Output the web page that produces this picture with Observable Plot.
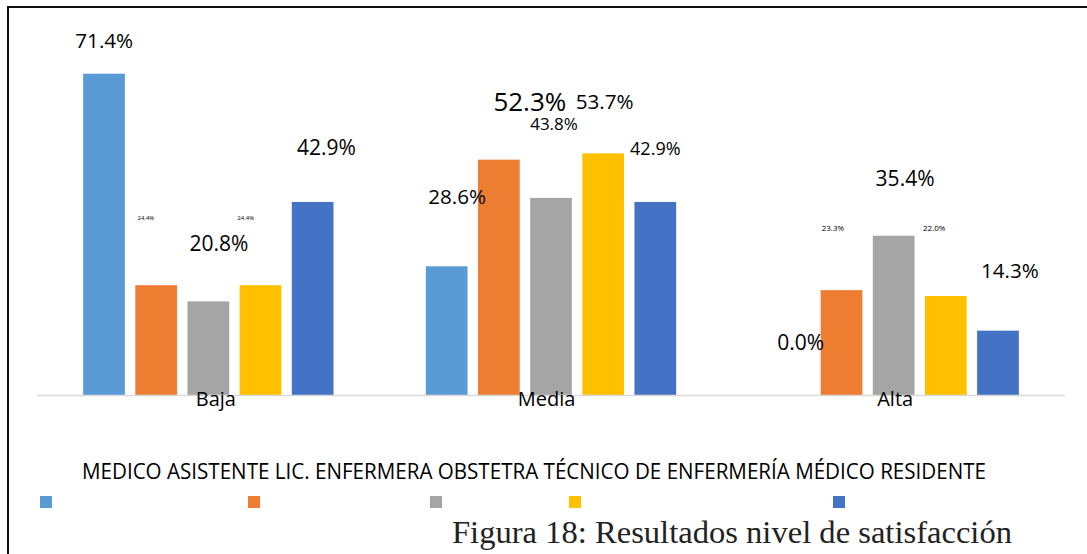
<!DOCTYPE html>
<html>
<head>
<meta charset="utf-8">
<script src="https://cdn.jsdelivr.net/npm/d3@7"></script>
<script src="https://cdn.jsdelivr.net/npm/@observablehq/plot@0.6"></script>
<style>
  html, body { margin: 0; padding: 0; background: #fff; overflow: hidden; }
  #wrap { position: relative; width: 1087px; height: 554px; }
  #frame { position: absolute; left: 7px; top: 6px; width: 1200px; height: 700px;
           border-top: 2.5px solid #111; border-left: 2.5px solid #111; pointer-events: none; }
  svg { display: block; }
</style>
</head>
<body>
<div id="wrap">
  <div id="chart"></div>
  <div id="legend"></div>
  <div id="frame"></div>
</div>
<script>
// ---- data ----
const categories = ["Baja", "Media", "Alta"];
const series = ["MEDICO ASISTENTE", "LIC. ENFERMERA", "OBSTETRA", "TÉCNICO DE ENFERMERÍA", "MÉDICO RESIDENTE"];
const medicoAsistente   = [71.4, 28.6, 0.0];
const licEnfermera      = [24.4, 52.3, 23.3];
const obstetra          = [20.8, 43.8, 35.4];
const tecnicoEnfermeria = [24.4, 53.7, 22.0];
const medicoResidente   = [42.9, 42.9, 14.3];
const caption = "Figura 18: Resultados nivel de satisfacción";

// ---- styles ----
const colors = ["#5b9bd5", "#ed7d31", "#a5a5a5", "#ffc000", "#4472c4"];
// label offsets (px) and font sizes, in order category -> series
const labelStyle = [
  {dx: -0.3, dy: -32.7, size: 20.6}, {dx: -10.8, dy: -67.2, size: 6}, {dx: 10.2, dy: -57.4, size: 21}, {dx: -15.3, dy: -67.2, size: 6}, {dx: 13.2, dy: -54, size: 21},
  {dx: 10, dy: -69.3, size: 20.6}, {dx: 30.5, dy: -57.6, size: 26}, {dx: 2.5, dy: -74.3, size: 17}, {dx: 1, dy: -51.4, size: 20.6}, {dx: -0.5, dy: -53, size: 18},
  {dx: 10.9, dy: -52, size: 21}, {dx: -9.1, dy: -62.6, size: 8}, {dx: 10.9, dy: -56.7, size: 21}, {dx: -12.1, dy: -68.5, size: 8}, {dx: 11.4, dy: -60.2, size: 20.6}
];
const catDx = [7, -5, 1];

const seriesValues = [medicoAsistente, licEnfermera, obstetra, tecnicoEnfermeria, medicoResidente];
const rows = [];
categories.forEach((c, ci) => {
  series.forEach((s, si) => {
    const v = seriesValues[si][ci];
    rows.push({cat: c, ser: s, value: v, label: v.toFixed(1) + "%"});
  });
});

const font = "'Open Sans', sans-serif";

const chart = Plot.plot({
  width: 1087,
  height: 420,
  marginLeft: 37,
  marginRight: 22,
  marginTop: 35,
  marginBottom: 25,
  style: {fontFamily: font, background: "transparent", overflow: "visible"},
  fx: {domain: categories, padding: 0, round: false, axis: null},
  x: {domain: series, paddingInner: 0.2, paddingOuter: 0.885, round: false, axis: null},
  y: {domain: [0, 80], axis: null},
  color: {domain: series, range: colors},
  marks: [
    Plot.barY(rows, {fx: "cat", x: "ser", y: "value", fill: "ser"}),
    Plot.ruleY([0], {stroke: "#d9d9d9", strokeWidth: 1.5}),
    ...rows.map((r, i) => Plot.text([r], {
      fx: "cat", x: "ser", y: "value", text: "label",
      dx: labelStyle[i].dx, dy: labelStyle[i].dy, fontSize: labelStyle[i].size,
      fill: "#000"
    })),
    ...categories.map((c, i) => Plot.text([{cat: c}], {
      fx: "cat", frameAnchor: "bottom", text: "cat", lineAnchor: "top",
      dy: -4, dx: catDx[i], fontSize: 20, fill: "#000"
    }))
  ]
});
document.getElementById("chart").appendChild(chart);

// ---- legend and caption (below the chart svg) ----
const squareX = [40, 248, 430, 569, 833];
const svg = d3.select("#legend").append("svg").attr("width", 1087).attr("height", 134);
svg.append("text")
  .attr("x", 82).attr("y", 59)
  .attr("font-family", font).attr("font-size", 21).attr("fill", "#000")
  .attr("textLength", 904).attr("lengthAdjust", "spacingAndGlyphs")
  .text(series.join(" "));
svg.selectAll("rect.sw").data(series).join("rect")
  .attr("class", "sw")
  .attr("x", (d, i) => squareX[i]).attr("y", 76)
  .attr("width", 12).attr("height", 12)
  .attr("fill", (d, i) => colors[i]);
svg.append("text")
  .attr("x", 452).attr("y", 123)
  .attr("font-family", "'Liberation Serif', 'Times New Roman', serif")
  .attr("font-size", 32.5).attr("fill", "#222")
  .attr("textLength", 560).attr("lengthAdjust", "spacingAndGlyphs")
  .text(caption);
</script>
</body>
</html>
